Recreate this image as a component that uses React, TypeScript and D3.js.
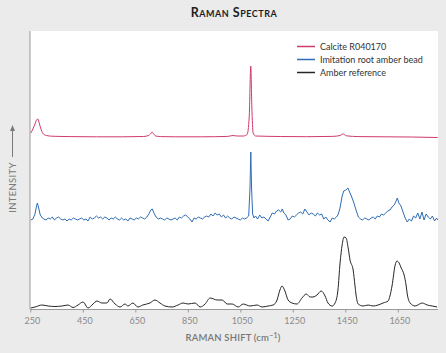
import React from "react";
import * as d3 from "d3";

const tickValues = [250, 450, 650, 850, 1050, 1250, 1450, 1650];
const seriesNames = ["Calcite R040170", "Imitation root amber bead", "Amber reference"];
const seriesColors = ["#cf3b6c", "#2f6cb5", "#262626"];
const seriesOffsets = [172, 91, 1];

const calcite: [number, number][] = [
  [250, 4], [258, 8], [266, 13], [272, 17], [277, 18], [283, 13], [290, 7], [298, 3], [310, 1.5], [330, 0.8],
  [400, 0.4], [500, 0.2], [600, 0.2], [680, 0.5], [698, 1.5], [706, 3], [712, 5], [718, 3], [726, 1], [745, 0.4],
  [800, 0.2], [900, 0.2], [1000, 0.6], [1020, 1.5], [1035, 1], [1060, 1], [1074, 2.5], [1082, 20], [1088, 71],
  [1092, 30], [1097, 4], [1106, 1], [1200, 0.5], [1300, 0.3], [1400, 0.6], [1428, 1.5], [1440, 3], [1452, 1.2],
  [1500, 0.4], [1600, 0.2], [1700, 0], [1800, -0.5],
];

const imitation: [number, number][] = [
  [250, -2], [258, -1], [266, 4], [271, 11], [275, 15], [280, 10], [286, 3], [294, 0], [300, -1], [308, -2],
  [316, 0], [324, -1], [332, 1], [340, -2], [348, 0], [356, 1], [364, -1], [372, -2], [380, -1], [388, -3],
  [396, -1], [404, -2], [412, 0], [420, -1], [428, -2], [436, -1], [444, 0], [452, -2], [460, -1], [468, -3],
  [476, 1], [484, -1], [492, 0], [500, 2], [508, 0], [516, 1], [524, -1], [532, 1], [540, 0], [548, -2],
  [556, 0], [564, -1], [572, 1], [580, -1], [588, -2], [596, 0], [604, -2], [612, -1], [620, -3], [628, 0],
  [636, -1], [644, -2], [652, 0], [660, -1], [668, 1], [676, 0], [684, -1], [692, 1], [700, 4], [707, 8],
  [713, 9], [719, 5], [727, 1], [736, -1], [744, 0], [752, -1], [760, -2], [768, 0], [776, -1], [784, -2],
  [792, -1], [800, 0], [808, -2], [816, 1], [824, 0], [832, 2], [840, 3], [848, 1], [856, -1], [864, -4],
  [872, 0], [880, -1], [888, 1], [896, 0], [904, -1], [912, 1], [920, 2], [928, 1], [936, 4], [944, 2],
  [952, 5], [960, 3], [968, 4], [976, 1], [984, 3], [992, 0], [1000, 2], [1008, 0], [1016, -1], [1024, 1],
  [1032, 0], [1040, -1], [1048, -2], [1056, 0], [1064, -1], [1072, 0], [1080, 2], [1085, 30], [1088, 66],
  [1091, 30], [1095, 4], [1100, 0], [1106, 2], [1114, -1], [1122, 3], [1130, 0], [1138, 1], [1146, -1],
  [1154, -3], [1162, 1], [1170, 5], [1178, 4], [1186, 7], [1194, 8], [1202, 6], [1208, 9], [1214, 5],
  [1222, 3], [1230, -2], [1238, -1], [1246, 2], [1254, 1], [1262, 3], [1270, 5], [1278, 6], [1286, 4],
  [1294, 9], [1302, 6], [1310, 3], [1318, 5], [1326, 4], [1334, 2], [1342, 5], [1350, 3], [1358, 4],
  [1366, -1], [1374, 1], [1382, -2], [1390, -4], [1398, 0], [1406, -1], [1414, 1], [1420, 3], [1428, 10],
  [1436, 22], [1442, 27], [1450, 28], [1458, 30], [1466, 25], [1474, 20], [1482, 14], [1490, 7], [1498, 1],
  [1506, -1], [1514, -2], [1522, 0], [1530, -1], [1538, -2], [1546, 0], [1554, 1], [1562, -1], [1570, 2],
  [1578, 1], [1586, 4], [1594, 3], [1602, 5], [1610, 7], [1618, 8], [1626, 11], [1634, 13], [1640, 16],
  [1646, 20], [1652, 15], [1660, 12], [1668, 6], [1676, 0], [1684, -4], [1692, -1], [1700, -3], [1708, 2],
  [1716, 0], [1724, 5], [1732, -1], [1740, 6], [1748, -2], [1756, 4], [1764, 1], [1772, -1], [1780, 2],
  [1788, -3], [1796, 0], [1800, -2],
];

const amber: [number, number][] = [
  [250, 0], [266, 1], [293, 3], [316, 2], [342, 1.5], [369, 2], [392, 3], [411, 0.5], [430, 3], [449, 6],
  [468, 0], [487, 4], [502, 7], [521, 5], [540, 5], [552, 9], [571, 4], [590, 1], [609, 4], [620, 2],
  [639, 5], [658, 1], [677, 3], [704, 5], [723, 8], [742, 5], [761, 2], [788, 1], [811, 3], [830, 5],
  [849, 4], [876, 5], [895, 1], [914, 4], [933, 10], [960, 8], [979, 8], [998, 4], [1017, 4], [1040, 1],
  [1059, 4], [1085, 2], [1112, 3], [1131, 1], [1154, 2], [1173, 3], [1188, 8], [1199, 18], [1207, 22],
  [1218, 17], [1230, 8], [1245, 5], [1264, 4], [1283, 10], [1299, 14], [1314, 11], [1325, 11], [1340, 13],
  [1356, 17], [1371, 12], [1382, 5], [1398, 2], [1409, 5], [1420, 18], [1428, 45], [1436, 63], [1443, 71],
  [1451, 70], [1459, 60], [1466, 48], [1478, 38], [1485, 22], [1489, 13], [1497, 4], [1516, 2], [1535, 3],
  [1554, 2], [1573, 3], [1592, 5], [1611, 7], [1618, 12], [1626, 22], [1638, 43], [1645, 47], [1653, 45],
  [1661, 40], [1672, 33], [1680, 22], [1684, 14], [1695, 5], [1714, 2], [1741, 5], [1760, 3], [1779, 2],
  [1798, 1],
];

const seriesData = [calcite, imitation, amber];
const seriesCurves = [d3.curveMonotoneX, d3.curveLinear, d3.curveMonotoneX];

const W = 446;
const H = 353;
const plot = { left: 30, right: 438, top: 31, bottom: 309 };
const font = "Lato, 'Open Sans', sans-serif";

export default function App() {
  const x = d3.scaleLinear().domain([250, 1800]).range([30.8, 437.7]);
  const y = d3.scaleLinear().domain([0, 278]).range([plot.bottom, plot.top]);

  const paths = seriesData.map((data, i) =>
    d3
      .line<[number, number]>()
      .x((d) => x(d[0]))
      .y((d) => y(d[1] + seriesOffsets[i]))
      .curve(seriesCurves[i])(data) as string
  );

  return (
    <svg
      width={W}
      height={H}
      style={{ position: "absolute", left: 0, top: 0, background: "#ebebeb" }}
      fontFamily={font}
    >
      <defs>
        <clipPath id="clip">
          <rect x={plot.left} y={plot.top} width={plot.right - plot.left} height={plot.bottom - plot.top} />
        </clipPath>
      </defs>
      <rect x={0} y={0} width={W} height={H} fill="#ebebeb" />
      <rect
        x={plot.left}
        y={plot.top}
        width={plot.right - plot.left}
        height={plot.bottom - plot.top}
        fill="#ffffff"
      />
      <line x1={plot.left} x2={plot.left} y1={plot.top} y2={plot.bottom} stroke="#a8a8a8" strokeWidth={1.2} />

      {/* title */}
      <text
        x={234}
        y={17}
        textAnchor="middle"
        fontSize={12.5}
        fontWeight={700}
        fill="#1e1e1e"
        letterSpacing={0.5}
        style={{ fontVariant: "small-caps" }}
      >
        Raman Spectra
      </text>

      {/* series */}
      <g clipPath="url(#clip)">
        {paths.map((p, i) => (
          <path key={i} d={p} fill="none" stroke={seriesColors[i]} strokeWidth={1} strokeLinejoin="round" />
        ))}
      </g>

      {/* x axis */}
      <line x1={plot.left} x2={plot.right} y1={plot.bottom + 0.5} y2={plot.bottom + 0.5} stroke="#9a9a9a" strokeWidth={1} />
      {tickValues.map((t) => (
        <g key={t}>
          <line x1={x(t)} x2={x(t)} y1={plot.bottom} y2={plot.bottom + 3.5} stroke="#9a9a9a" strokeWidth={1} />
          <text x={x(t) + 1.5} y={324} textAnchor="middle" fontSize={9} fill="#8a8a8a">
            {t}
          </text>
        </g>
      ))}
      <text x={233} y={341} textAnchor="middle" fontSize={9.5} fontWeight={600} fill="#777" letterSpacing={0.2}>
        RAMAN SHIFT (cm<tspan fontSize={7} dy={-3.5}>−1</tspan>
        <tspan dy={3.5}>)</tspan>
      </text>

      {/* y axis label */}
      <text
        transform="translate(15.5,187.5) rotate(-90)"
        textAnchor="middle"
        fontSize={9.5}
        fill="#7a7a7a"
        letterSpacing={0.3}
      >
        INTENSITY
      </text>
      <line x1={12.5} x2={12.5} y1={157} y2={129} stroke="#7a7a7a" strokeWidth={1} />
      <path d="M12.5,125 L10,131 L15,131 Z" fill="#7a7a7a" />

      {/* legend */}
      {seriesNames.map((name, i) => (
        <g key={name} transform={`translate(0, ${46 + i * 13})`}>
          <line x1={297} x2={315} y1={0.5} y2={0.5} stroke={seriesColors[i]} strokeWidth={1.5} />
          <text x={320} y={3.5} fontSize={9} fill="#333">
            {name}
          </text>
        </g>
      ))}
    </svg>
  );
}
